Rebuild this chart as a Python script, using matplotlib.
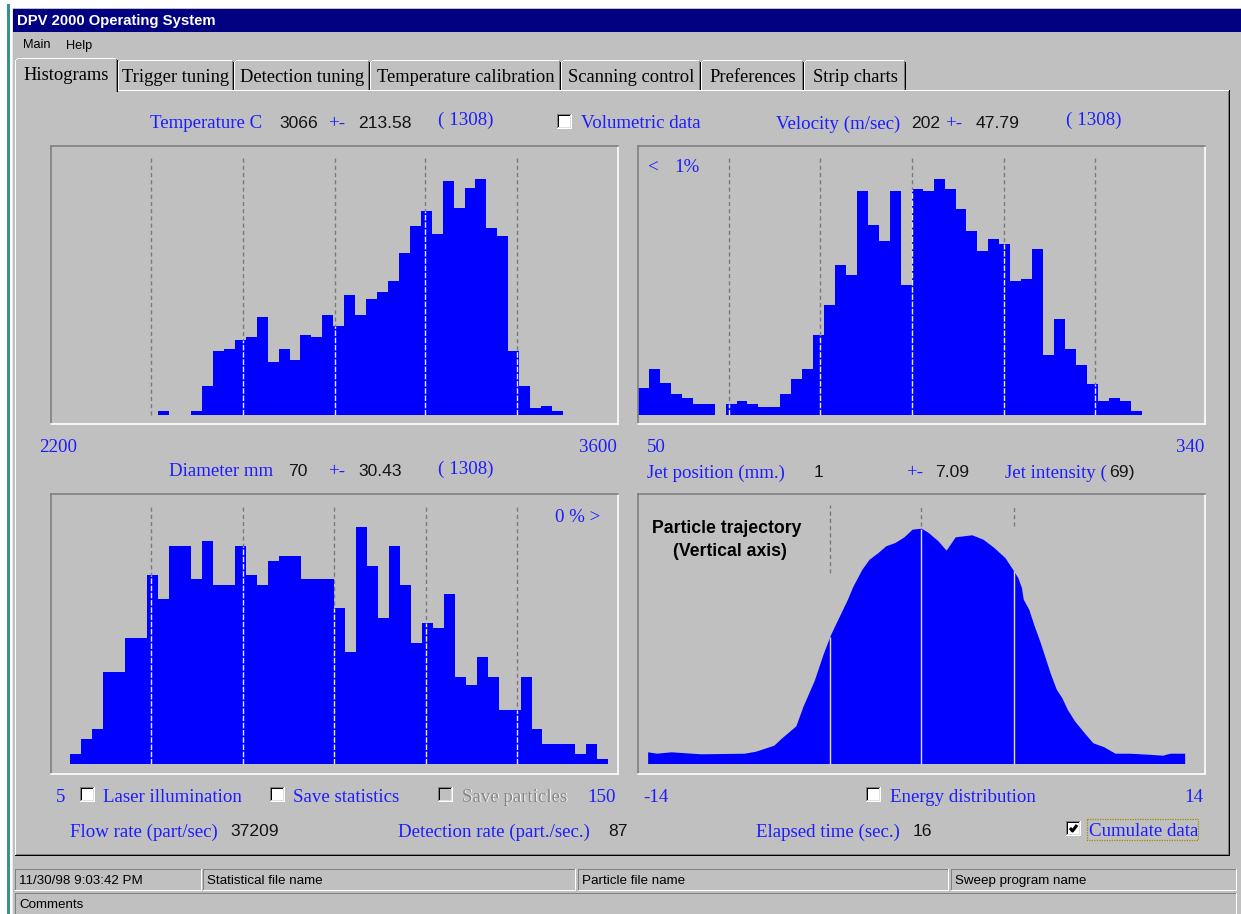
import numpy as np
import matplotlib
matplotlib.use("Agg")
import matplotlib.pyplot as plt
from matplotlib.patches import Rectangle
from matplotlib import font_manager

# ---------------- histogram data ----------------
TEMP_RANGE = (2200, 3600)            # deg C
TEMP_BIN_START, TEMP_BIN_WIDTH = 2465, 27
TEMP_COUNTS = [4, 0, 0, 4, 29, 64, 66, 75, 78, 98,
               53, 66, 55, 80, 78, 100, 89, 120, 100, 116,
               123, 134, 162, 189, 204, 181, 234, 207, 227, 236,
               187, 179, 64, 29, 7, 9, 4]
TEMP_GUIDES = [2448, 2675, 2900, 3124, 3351]

VEL_RANGE = (50, 340)                # m/sec
VEL_BIN_START, VEL_BIN_WIDTH = 50, 5.6
VEL_COUNTS = [27, 46, 32, 21, 17, 11, 11, 0, 11, 14,
              11, 8, 8, 21, 36, 46, 80, 110, 150, 140,
              224, 190, 174, 224, 130, 226, 224, 236, 226, 206,
              184, 164, 176, 171, 134, 136, 166, 60, 96, 66,
              50, 31, 14, 17, 14, 4]
VEL_GUIDES = [96.5, 143, 190, 237, 283.5]

DIAM_RANGE = (5, 150)                # diameter
DIAM_BIN_START, DIAM_BIN_WIDTH = 9.86, 2.81
DIAM_COUNTS = [10, 25, 35, 92, 92, 126, 126, 189, 165, 218,
               218, 185, 223, 179, 179, 218, 189, 179, 203, 208,
               208, 185, 185, 185, 156, 112, 237, 198, 146, 218,
               179, 121, 141, 136, 170, 87, 79, 107, 87, 54,
               54, 87, 35, 20, 20, 20, 10, 20, 5]
DIAM_GUIDES = [30.7, 54.2, 77.4, 100.9, 124.2]

TRAJ_RANGE = (-14, 14)               # mm, vertical axis
TRAJ_POS = [-13.50, -13.06, -12.34, -10.89, -8.72, -8.17, -7.27, -6.90, -6.18, -5.82,
            -5.27, -4.82, -4.46, -4.01, -3.64, -3.37, -2.92, -2.56, -2.14, -1.74,
            -1.29, -0.84, -0.44, 0.01, 0.34, 0.84, 1.24, 1.69, 2.51, 3.06,
            3.60, 4.14, 4.50, 4.78, 4.96, 5.05, 5.32, 5.59, 5.86, 6.13,
            6.40, 6.68, 6.95, 7.22, 7.58, 8.12, 8.49, 9.03, 9.58, 10.30,
            11.20, 11.93, 12.29, 13.02]
TRAJ_LEVEL = [11.7, 10.3, 11.7, 9.7, 10.3, 12.3, 18.3, 25.3, 37.7, 57.7,
              83.3, 110.3, 129.3, 148.3, 164, 177, 194.3, 204.3, 210.7, 217.7,
              221, 226.7, 234.3, 235.3, 231.3, 222.7, 213.3, 226.7, 228.7, 224.3,
              216, 206, 195, 186, 176, 164.3, 154.3, 137.7, 122.7, 106,
              89.3, 74.3, 66, 54.3, 42.7, 29.3, 20.7, 16.7, 10.3, 10.3,
              9.3, 8.3, 10.3, 10.3]
TRAJ_GUIDES = [-4.5, 0.0, 4.55]

# ---------------- read-outs ----------------
N_PARTICLES = "1308"
TEMP_MEAN, TEMP_SD = "3066", "213.58"
VEL_MEAN, VEL_SD = "202", "47.79"
DIAM_MEAN, DIAM_SD = "70", "30.43"
JET_POS, JET_SD, JET_INT = "1", "7.09", "69"
FLOW_RATE, DET_RATE, ELAPSED = "37209", "87", "16"
TIMESTAMP = "11/30/98 9:03:42 PM"
TABS = ["Histograms", "Trigger tuning", "Detection tuning", "Temperature calibration",
        "Scanning control", "Preferences", "Strip charts"]
STATUS_FIELDS = [TIMESTAMP, "Statistical file name", "Particle file name", "Sweep program name"]

# ---------------- look ----------------
W, H = 1241, 914
GRAY = "#c0c0c0"
BLUE = "#1c1cff"
BAR = "#0000ff"
INK = "#141414"
SERIF = "Liberation Serif"
SANS = "Liberation Sans"
_names = {f.name for f in font_manager.fontManager.ttflist}
if "Liberation Sans Narrow" in _names:
    NARROW, NARROW_SIZE = "Liberation Sans Narrow", 15.5
else:
    NARROW, NARROW_SIZE = "Liberation Sans", 12.7

fig = plt.figure(figsize=(W / 100, H / 100), dpi=100, facecolor=GRAY)
ui = fig.add_axes([0, 0, 1, 1])
ui.set_xlim(0, W)
ui.set_ylim(H, 0)
ui.axis("off")
ui.set_zorder(0)


def box(x0, y0, x1, y1, color, z=1):
    ui.add_patch(Rectangle((x0, y0), x1 - x0, y1 - y0, facecolor=color,
                           edgecolor="none", lw=0, zorder=z, antialiased=False))


def hl(x0, x1, y, color, z=2):
    box(x0, y, x1, y + 1, color, z)


def vl(x, y0, y1, color, z=2):
    box(x, y0, x + 1, y1, color, z)


def label(x, y, s, color=BLUE, size=13.6, family=SERIF, ha="left", weight="normal", on=None, z=6, dy=2.0):
    target = on if on is not None else ui
    target.text(x, y + dy, s, color=color, fontsize=size, family=family, ha=ha, va="center",
                fontweight=weight, transform=ui.transData, zorder=z)


def number(x, y, s):
    label(x, y, s, color=INK, size=12.6, family=SANS, dy=1.5)


def sunken(x0, y0, x1, y1):
    hl(x0, x1, y0, "#808080")
    vl(x0, y0, y1, "#808080")
    hl(x0, x1 + 1, y1, "white")
    vl(x1, y0, y1 + 1, "white")


def checkbox(x, y, checked=False, enabled=True, s=15):
    box(x, y, x + s, y + s, "white" if enabled else GRAY, 3)
    hl(x, x + s, y, "#808080", 4)
    vl(x, y, y + s, "#808080", 4)
    hl(x + 1, x + s - 1, y + 1, "#000000", 4)
    vl(x + 1, y + 1, y + s - 1, "#000000", 4)
    hl(x, x + s, y + s - 1, "white", 4)
    vl(x + s - 1, y, y + s, "white", 4)
    hl(x + 1, x + s - 1, y + s - 2, "#dfdfdf", 4)
    vl(x + s - 2, y + 1, y + s - 1, "#dfdfdf", 4)
    if checked:
        ui.plot([x + 4, x + 6.5, x + 11], [y + 7, y + 10, y + 4], color="black",
                lw=2.2, solid_capstyle="butt", zorder=5)


# ---------------- desktop & window frame ----------------
box(0, 0, W, 8, "white", 0)
box(0, 0, 12, H, "white", 0)
box(7, 4, 10, H, "#3a8f8f", 0)
box(12, 8, W, H, GRAY, 0.5)
vl(12, 8, H, "#e8e8e8")
box(13, 9, W, 32, "#000080")
label(17, 21, "DPV 2000 Operating System", color="white", size=10.7, family=SANS, weight="bold", dy=0.5)
label(23, 45, "Main", color="black", size=9.2, family=SANS, dy=0.5)
label(66, 45, "Help", color="black", size=9.2, family=SANS, dy=0.5)

# ---------------- tab control ----------------
hl(15, 1229, 90, "white")
vl(15, 90, 855, "white")
vl(1228, 91, 855, "#808080")
vl(1229, 90, 856, "#000000")
hl(16, 1229, 854, "#808080")
hl(15, 1230, 855, "#000000")

TAB_EDGES = [15, 118, 234, 370, 561, 701, 804, 906]
for i, name in enumerate(TABS):
    x0, x1 = TAB_EDGES[i], TAB_EDGES[i + 1]
    selected = i == 0
    top, bot = (58, 92) if selected else (60, 90)
    z = 4 if selected else 3
    box(x0, top, x1, bot, GRAY, z)
    hl(x0 + 2, x1 - 2, top, "white", z)
    box(x0 + 1, top + 1, x0 + 2, top + 2, "white", z)
    vl(x0, top + 2, bot, "white", z)
    vl(x1 - 1, top + 2, bot, "#000000", z)
    vl(x1 - 2, top + 1, bot, "#808080", z)
    label((x0 + x1) / 2, 75 if selected else 76, name, color="black", size=13.3, ha="center", dy=1.0)

# ---------------- status bar ----------------
STATUS_BOXES = [(15, 201), (203, 575), (578, 948), (951, 1236)]
for (x0, x1), text in zip(STATUS_BOXES, STATUS_FIELDS):
    sunken(x0, 869, x1, 890)
    label(x0 + 4, 880, text, color="black", size=9.6, family=SANS, dy=0.8)
sunken(15, 893, 1236, 916)
label(19, 904, "Comments", color="black", size=9.6, family=SANS, dy=0.8)


# ---------------- histogram panels ----------------
def panel(x0, y0, x1, y1, base, xlim):
    ax = fig.add_axes([x0 / W, 1 - y1 / H, (x1 - x0) / W, (y1 - y0) / H])
    ax.set_zorder(1)
    ax.set_xlim(*xlim)
    ax.set_ylim(-(y1 - base), base - y0)
    ax.set_facecolor(GRAY)
    ax.set_xticks([])
    ax.set_yticks([])
    for side, c in (("top", "#808080"), ("left", "#808080"), ("bottom", "white"), ("right", "white")):
        ax.spines[side].set_color(c)
        ax.spines[side].set_linewidth(1.2)
    return ax


GUIDE_TOP = 259
OUTER_DASH = (0, (3, 2.2))
INNER_DASH = (0, (4, 1.2))


def histogram(ax, start, width, counts, guides):
    counts = np.asarray(counts, dtype=float)
    edges = start + width * np.arange(len(counts) + 1)
    ax.stairs(counts, edges, fill=True, baseline=0, facecolor=BAR, edgecolor="none", lw=0, zorder=2)
    for g in guides:
        ax.vlines(g, 0, GUIDE_TOP, colors="#7a7a7a", lw=1.0, linestyles=OUTER_DASH, zorder=1)
        k = np.searchsorted(edges, g, side="right") - 1
        if 0 <= k < len(counts) and counts[k] > 0:
            ax.vlines(g, 0, counts[k], colors="#ececec", lw=1.0, linestyles=INNER_DASH, zorder=3)


ax_t = panel(51, 146, 618, 424, 415, TEMP_RANGE)
histogram(ax_t, TEMP_BIN_START, TEMP_BIN_WIDTH, TEMP_COUNTS, TEMP_GUIDES)

ax_v = panel(638, 146, 1205, 424, 415, VEL_RANGE)
histogram(ax_v, VEL_BIN_START, VEL_BIN_WIDTH, VEL_COUNTS, VEL_GUIDES)
label(648, 166, "<", on=ax_v)
label(674, 166, "1%", on=ax_v)

ax_d = panel(51, 494, 618, 774, 764, DIAM_RANGE)
histogram(ax_d, DIAM_BIN_START, DIAM_BIN_WIDTH, DIAM_COUNTS, DIAM_GUIDES)
label(555, 515, "0 % >", on=ax_d)

ax_j = panel(638, 494, 1205, 774, 764, TRAJ_RANGE)
ax_j.fill_between(TRAJ_POS, 0, TRAJ_LEVEL, facecolor=BAR, edgecolor="none", lw=0, zorder=2)
for g, stub_end in zip(TRAJ_GUIDES, [191, 238, 238]):
    ax_j.vlines(g, stub_end, GUIDE_TOP, colors="#7a7a7a", lw=1.0, linestyles=OUTER_DASH, zorder=1)
    ax_j.vlines(g, 0, np.interp(g, TRAJ_POS, TRAJ_LEVEL), colors="#dcdcec", lw=1.0, zorder=3)
ax_j.text(726.5, 528.5, "Particle trajectory", transform=ui.transData, ha="center", va="center",
          family=NARROW, fontsize=NARROW_SIZE, fontweight="bold", color="black", zorder=6)
ax_j.text(729.5, 551.5, "(Vertical axis)", transform=ui.transData, ha="center", va="center",
          family=NARROW, fontsize=NARROW_SIZE, fontweight="bold", color="black", zorder=6)

# ---------------- read-out rows ----------------
label(149.5, 122, "Temperature C")
number(279, 122, TEMP_MEAN)
label(328, 122, "+-")
number(358, 122, TEMP_SD)
label(438, 118.5, f"( {N_PARTICLES})")
checkbox(557, 114)
label(581, 122, "Volumetric data")
label(776.5, 122, "Velocity (m/sec)")
number(911.5, 122, VEL_MEAN)
label(945.5, 122, "+-")
number(975.5, 122, VEL_SD)
label(1066, 118.5, f"( {N_PARTICLES})")

label(39.5, 446, f"{TEMP_RANGE[0]}")
label(617, 446, f"{TEMP_RANGE[1]}", ha="right")
label(647, 446, f"{VEL_RANGE[0]}")
label(1204, 446, f"{VEL_RANGE[1]}", ha="right")

label(169, 470, "Diameter mm")
number(288, 470, DIAM_MEAN)
label(328, 470, "+-")
number(358, 470, DIAM_SD)
label(438, 467, f"( {N_PARTICLES})")
label(647, 471, "Jet position (mm.)")
number(814, 471, JET_POS)
label(906, 471, "+-")
number(935.5, 471, JET_SD)
label(1005, 471, "Jet intensity (")
number(1109, 471, f"{JET_INT})")

label(56, 795, f"{DIAM_RANGE[0]}")
checkbox(80, 787)
label(103, 795, "Laser illumination")
checkbox(270, 787)
label(293, 795, "Save statistics")
checkbox(438, 787, enabled=False)
label(463.2, 796, "Save particles", color="white", z=5)
label(462.2, 795, "Save particles", color="#848484")
label(616, 795, f"{DIAM_RANGE[1]}", ha="right")
label(643.5, 795, f"{TRAJ_RANGE[0]}")
checkbox(866, 787)
label(890, 795, "Energy distribution")
label(1203, 795, f"{TRAJ_RANGE[1]}", ha="right")

label(70, 830, "Flow rate (part/sec)")
number(230.5, 830, FLOW_RATE)
label(398, 830, "Detection rate (part./sec.)")
number(608, 830, DET_RATE)
label(756.5, 830, "Elapsed time (sec.)")
number(913, 830, ELAPSED)
checkbox(1066, 821, checked=True)
label(1089, 830, "Cumulate data")
ui.add_patch(Rectangle((1087, 818.5), 111, 21.5, fill=False, edgecolor="#9a8a00",
                       lw=0.9, ls=(0, (1, 1)), zorder=5))

fig.savefig("out.png", dpi=100, facecolor=GRAY)
